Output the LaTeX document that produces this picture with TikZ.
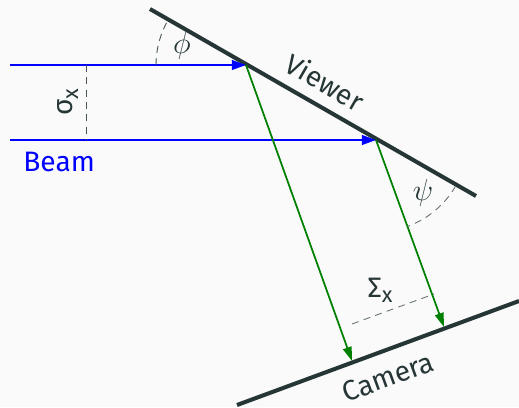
\documentclass[tikz,border=0pt]{standalone}
\usepackage{fontspec}
\setmainfont{Fira Sans}
\usepackage{xcolor}
\usepackage{tikz}
\usetikzlibrary{arrows.meta}

\definecolor{slate}{HTML}{263636}
\definecolor{beamblue}{RGB}{0,0,255}
\definecolor{raygreen}{RGB}{0,128,0}
\definecolor{bgpaper}{HTML}{FAFAFA}

\newcommand{\subx}{{\fontsize{12.5}{14}\selectfont\raisebox{-0.45ex}{x}}}

\tikzset{
  screen/.style={slate, line width=2.3pt},
  beamray/.style={beamblue, line width=1.1pt, -{Triangle[length=8pt, width=5.5pt]}},
  outray/.style={raygreen, line width=1pt, -{Triangle[length=8pt, width=5pt]}},
  guide/.style={slate!85, line width=0.5pt, dash pattern=on 4pt off 3pt},
  lbl/.style={text=slate, font=\fontsize{16}{19}\selectfont, inner sep=0pt},
  anglbl/.style={lbl, font=\fontsize{19}{22}\selectfont},
}

\begin{document}
\begin{tikzpicture}[x=0.02cm, y=-0.02cm]
  \fill[bgpaper] (0,0) rectangle (519,407);
  \useasboundingbox (0,0) rectangle (519,407);

  % ── Viewer screen ──
  \coordinate (viewerL) at (150,9);
  \coordinate (viewerR) at (476,196);
  \draw[screen] (viewerL) -- (viewerR);
  \node[lbl, rotate=-30] (viewerlbl) at (325,82) {Viewer};

  % ── Camera screen ──
  \coordinate (cameraL) at (237,405);
  \coordinate (cameraR) at (519,301);
  \draw[screen] (cameraL) -- (cameraR);
  \node[lbl, rotate=20] (cameralbl) at (388,377) {Camera};

  % ── Incoming beam ──
  \coordinate (beamA) at (10,65);
  \coordinate (beamB) at (10,140);
  \coordinate (hitA) at (246,65);
  \coordinate (hitB) at (376,140);
  \draw[beamray] (beamA) -- (hitA);
  \draw[beamray] (beamB) -- (hitB);
  \node[lbl, text=beamblue, anchor=base west] (beamlbl) at (23,171) {Beam};

  % beam width
  \coordinate (sigT) at (86,65);
  \coordinate (sigB) at (86,140);
  \draw[guide] (sigT) -- (sigB);
  \node[lbl, rotate=90] (sigmalbl) at (68,102) {σ\subx};

  % ── Rays to the camera ──
  \coordinate (camA) at (352,361);
  \coordinate (camB) at (444,327);
  \draw[outray] (hitA) -- (camA);
  \draw[outray] (hitB) -- (camB);

  % projected width
  \coordinate (SigL) at (352,324);
  \coordinate (SigR) at (434,294);
  \draw[guide, slate!70] (SigL) -- (SigR);
  \node[lbl] (Sigmalbl) at (380,290) {Σ\subx};

  % ── Angles ──
  \draw[guide] (hitA) ++(180:90) arc[start angle=180, end angle=210, radius=90];
  \node[anglbl] (philbl) at (182,46) {$\phi$};
  \draw[guide, slate!70] (hitB) ++(30:92) arc[start angle=30, end angle=70, radius=92];
  \node[anglbl] (psilbl) at (423,193) {$\psi$};
\end{tikzpicture}
\end{document}
